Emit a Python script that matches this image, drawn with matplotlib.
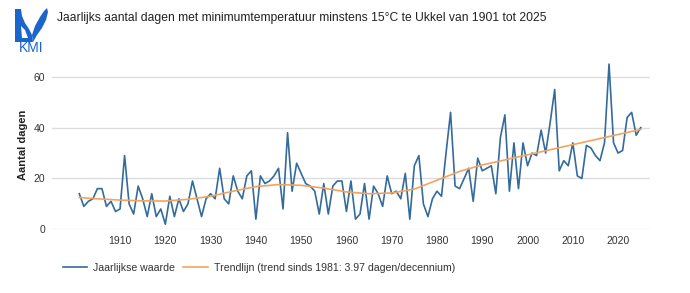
import matplotlib
matplotlib.use("Agg")
import matplotlib.pyplot as plt
from matplotlib.patches import Polygon

plt.rcParams['font.family'] = ['Liberation Sans', 'DejaVu Sans']

years = list(range(1901, 2026))
values = [
    14, 9, 11, 12, 16, 16, 9, 11, 7, 8,          # 1901-1910
    29, 10, 6, 17, 12, 5, 14, 5, 8, 2,           # 1911-1920
    13, 5, 12, 7, 10, 19, 12, 5, 12, 14,         # 1921-1930
    12, 24, 12, 10, 21, 15, 12, 21, 23, 4,       # 1931-1940
    21, 18, 19, 21, 24, 8, 38, 15, 26, 22,       # 1941-1950
    18, 17, 15, 6, 18, 6, 17, 19, 19, 7,         # 1951-1960
    19, 4, 6, 18, 4, 17, 14, 9, 21, 14,          # 1961-1970
    15, 12, 22, 4, 25, 29, 10, 5, 12, 15,        # 1971-1980
    13, 30, 46, 17, 16, 20, 24, 11, 28, 23,      # 1981-1990
    24, 25, 14, 36, 45, 15, 34, 16, 34, 25,      # 1991-2000
    30, 29, 39, 30, 42, 55, 23, 27, 25, 34,      # 2001-2010
    21, 20, 33, 32, 29, 27, 34, 65, 34, 30,      # 2011-2020
    31, 44, 46, 37, 40,                          # 2021-2025
]

trend_years = [1901, 1905, 1910, 1915, 1920, 1925, 1930, 1935, 1940, 1945,
               1950, 1955, 1960, 1965, 1970, 1975, 1980, 1985, 1990, 1995,
               2000, 2005, 2010, 2015, 2020, 2025]
trend_values = [12.5, 12.0, 11.5, 11.2, 11.1, 11.8, 13.0, 15.0, 16.8, 17.6,
                17.3, 16.2, 14.7, 14.0, 14.3, 15.8, 19.3, 22.8, 25.3, 27.3,
                29.3, 31.3, 33.3, 35.3, 37.3, 39.3]

xticks = [1910, 1920, 1930, 1940, 1950, 1960, 1970, 1980, 1990, 2000, 2010, 2020]
yticks = [0, 20, 40, 60]

blue = "#336b9c"
orange = "#f5a35c"
text_col = "#333333"

W, H = 690, 293
fig = plt.figure(figsize=(W / 100, H / 100), dpi=100)
ax = fig.add_axes([52 / W, 1 - 229.3 / H, (650 - 52) / W, (229.3 - 60) / H])

ax.plot(years, values, color=blue, lw=1.2, label="Jaarlijkse waarde", zorder=3)
ax.plot(trend_years, trend_values, color=orange, lw=1.2,
        label="Trendlijn (trend sinds 1981: 3.97 dagen/decennium)", zorder=4)

ax.set_xlim(1894.97, 2027.05)
ax.set_ylim(0, 66.6)
ax.set_xticks(xticks)
ax.set_yticks(yticks)
ax.grid(axis="y", color="#dddddd", lw=1)
ax.set_axisbelow(True)
for s in ax.spines.values():
    s.set_visible(False)
ax.tick_params(length=0, labelsize=7.5, colors=text_col, pad=5)
ax.set_ylabel("Aantal dagen", fontsize=8, fontweight="bold", color="#222222", labelpad=4)

fig.text(57 / W, 1 - 18 / H, "Jaarlijks aantal dagen met minimumtemperatuur minstens 15°C te Ukkel van 1901 tot 2025",
         fontsize=8.75, color="#222222", va="center", ha="left")

leg = fig.legend(loc="center left", bbox_to_anchor=(53 / W, 1 - 268 / H), ncol=2, frameon=False,
                 fontsize=7.6, handlelength=2.3, columnspacing=0.8, handletextpad=0.6)
for t in leg.get_texts():
    t.set_color(text_col)

# KMI logo
logo = fig.add_axes([0, 0, 1, 1], zorder=10)
logo.set_xlim(0, W)
logo.set_ylim(H, 0)
logo.axis("off")
logo_blue = "#1a66cc"
left_shape = [(15, 9), (21, 9), (22, 16), (25, 23), (29, 29), (32, 35), (33, 42), (15, 42)]
right_shape = [(47, 8), (48, 12), (46, 20), (42, 28), (37, 35), (33, 42), (32, 35),
               (35, 26), (40, 17), (44, 11)]
logo.add_patch(Polygon(left_shape, closed=True, color=logo_blue, lw=0))
logo.add_patch(Polygon(right_shape, closed=True, color=logo_blue, lw=0))
# white notch in the left shape
logo.add_patch(Polygon([(21, 26), (25, 30), (28, 38), (22, 38)], closed=True, color="white", lw=0))
logo.text(31.5, 48.5, "KMI", color=logo_blue, fontsize=10, ha="center", va="center")

fig.savefig("out.png", dpi=100)
